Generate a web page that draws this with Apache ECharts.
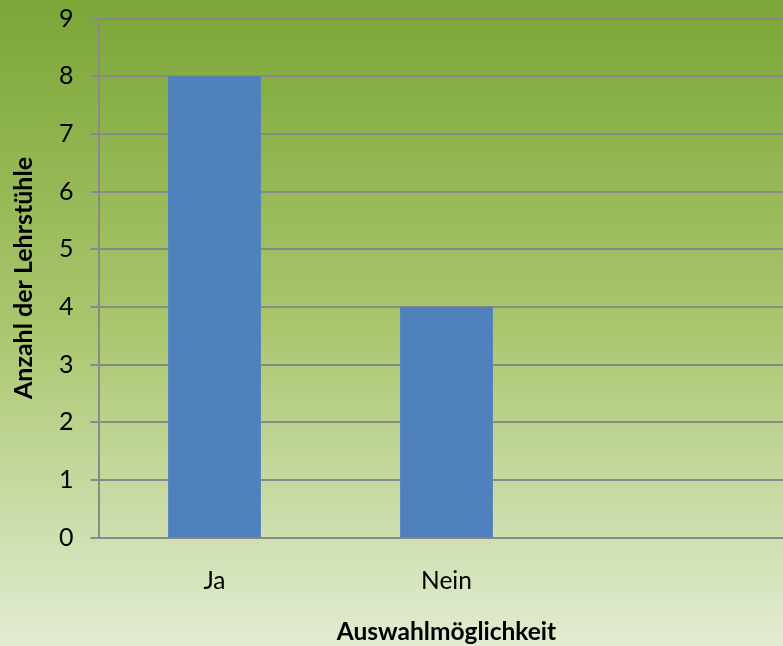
<!DOCTYPE html>
<html>
<head>
<meta charset="utf-8">
<script src="https://cdn.jsdelivr.net/npm/echarts@6/dist/echarts.min.js"></script>
<style>html,body{margin:0;padding:0;}#c{width:783px;height:646px;}</style>
</head>
<body>
<div id="c"></div>
<script>
const categories = ['Ja', 'Nein', ''];
const values = [8, 4, '-'];
const yTicks = { min: 0, max: 9, interval: 1 };
const xTitle = 'Auswahlmöglichkeit';
const yTitle = 'Anzahl der Lehrstühle';

const chart = echarts.init(document.getElementById('c'));
const font = 'Lato, "Liberation Sans", sans-serif';
chart.setOption({
  animation: false,
  backgroundColor: {
    type: 'linear', x: 0, y: 0, x2: 0, y2: 1,
    colorStops: [
      { offset: 0, color: '#7ba637' },
      { offset: 0.5, color: '#a9c66d' },
      { offset: 1, color: '#e2ecd2' }
    ]
  },
  grid: { left: 98.5, right: -11.5, top: 18.5, bottom: 108.5, containLabel: false, outerBoundsMode: 'none' },
  xAxis: {
    type: 'category',
    data: categories,
    name: xTitle,
    nameLocation: 'middle',
    nameGap: 82,
    nameTextStyle: { fontFamily: font, fontSize: 24.5, fontWeight: 'bold', color: '#000' },
    axisLine: { show: true, lineStyle: { color: '#8a8a8a', width: 2 } },
    axisTick: { show: false },
    axisLabel: { fontFamily: font, fontSize: 24.5, color: '#000', margin: 31 },
    splitLine: { show: false }
  },
  yAxis: {
    type: 'value',
    min: yTicks.min, max: yTicks.max, interval: yTicks.interval,
    name: yTitle,
    nameLocation: 'middle',
    nameGap: 62,
    nameTextStyle: { fontFamily: font, fontSize: 25, fontWeight: 'bold', color: '#000' },
    axisLine: { show: true, lineStyle: { color: '#8a8a8a', width: 2 } },
    axisTick: { show: true, inside: false, length: 8, lineStyle: { color: '#8a8a8a', width: 2 } },
    axisLabel: { fontFamily: font, fontSize: 25, color: '#000', margin: 25 },
    splitLine: { show: true, lineStyle: { color: '#8a8a8a', width: 2 } }
  },
  series: [{
    type: 'bar',
    data: values,
    barWidth: '40%',
    itemStyle: { color: '#4f81bd' }
  }]
});
</script>
</body>
</html>
